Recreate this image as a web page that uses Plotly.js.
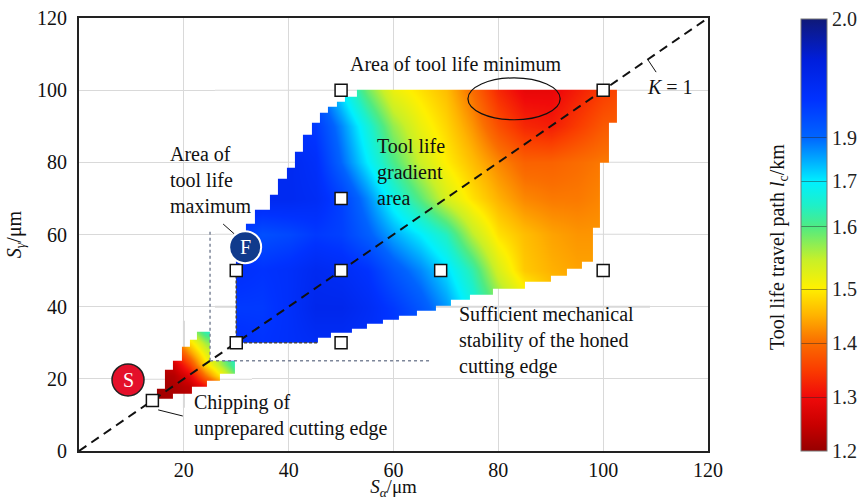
<!DOCTYPE html>
<html><head><meta charset="utf-8">
<script src="https://cdn.plot.ly/plotly-3.0.1.min.js"></script>
<style>html,body{margin:0;padding:0;background:#fff}#chart{width:866px;height:500px}</style>
</head><body><div id="chart"></div>
<script>
// ---------------- data ----------------
// main measured field: tool life travel path l_c (km) on S_alpha x S_gamma nodes
const mainX = [30,35,40,45,50,55,60,65,70,75,80,85,90,95,100,105];
const mainY = [30,40,50,60,70,80,90,100];
const mainZ = [
 [1.86,1.85,1.86,1.87,1.87,1.86,1.85,1.82,1.78,1.72,1.64,1.57,1.52,1.48,1.46,1.46],
 [1.84,1.84,1.86,1.89,1.89,1.87,1.84,1.80,1.75,1.68,1.60,1.54,1.48,1.45,1.44,1.44],
 [1.86,1.85,1.86,1.88,1.87,1.85,1.80,1.76,1.71,1.64,1.54,1.47,1.45,1.44,1.44,1.44],
 [1.84,1.81,1.82,1.84,1.83,1.79,1.74,1.70,1.65,1.56,1.49,1.46,1.44,1.43,1.43,1.43],
 [1.88,1.88,1.88,1.87,1.83,1.76,1.68,1.61,1.54,1.49,1.45,1.42,1.41,1.41,1.42,1.42],
 [1.88,1.88,1.88,1.86,1.78,1.70,1.62,1.55,1.50,1.46,1.42,1.39,1.39,1.40,1.41,1.41],
 [1.86,1.86,1.86,1.84,1.76,1.67,1.58,1.52,1.48,1.43,1.37,1.33,1.32,1.35,1.38,1.39],
 [1.84,1.84,1.84,1.80,1.70,1.60,1.52,1.49,1.46,1.40,1.33,1.29,1.29,1.32,1.35,1.37]
];
// chipping area (unprepared edge)
const wedgeX = [15,18,21,24,27,30];
const wedgeY = [15,18,21,24,27,30,33];
const wedgeZ = [
 [1.21,1.22,1.23,1.25,1.30,1.35],
 [1.21,1.22,1.24,1.30,1.38,1.45],
 [1.22,1.23,1.28,1.40,1.50,1.60],
 [1.23,1.26,1.35,1.48,1.57,1.65],
 [1.25,1.32,1.42,1.52,1.60,1.66],
 [1.30,1.38,1.48,1.57,1.63,1.67],
 [1.35,1.45,1.55,1.64,1.67,1.69]
];
// outline of the measured main area (stepped edges)
const leftEdgeY = [30,58,63,66.8,71,75.6,78.4,82.9,87.6,90.9,93.7,95.3,96.7,98.1];
const leftEdgeX = [30,31.8,33.5,36.4,38,39.7,41.2,42.7,44.4,46,47.5,49.2,50.7,53];
const topEdgeY = 100;
const rightEdgeY = [30,62,80,91];
const rightEdgeX = [98,99.3,101,102.7];
const bottomEdgeX = [30,45.5,48,52,55,58,61,64.5,68,71,74.5,79,85,90,93,96];
const bottomEdgeY = [30,31.5,32.8,34,35.3,36.3,37.5,38.8,40.2,41.8,43.2,45,47,48.6,50.5,52.4];
// outline of the chipping area (rows)
const wedgeRowY0 = [14.6,16.0,17.4,17.8,19.5,21.5,22.5,25.0,28.9,30.8];
const wedgeRowY1 = [16.0,17.4,17.8,19.5,21.5,22.5,25.0,28.9,30.8,33.1];
const wedgeRowX0 = [14.8,14.8,16.4,16.4,16.4,16.4,18.0,19.6,21.2,22.5];
const wedgeRowX1 = [18.0,21.5,21.5,24.4,26.9,29.8,29.8,24.9,24.9,24.9];
// test points
const sqX = [14,30,30,50,50,50,50,69,100,100];
const sqY = [14,30,50,30,50,70,100,50,50,100];
// K = 1 line
const kX = [0,120];
const kY = [0,120];
// axis ticks
const xTicks = [20,40,60,80,100,120];
const yTicks = [0,20,40,60,80,100,120];
const cbTickVals = [1.2,1.3,1.4,1.5,1.615,1.7,1.78,2.0];
const cbTickText = ['1.2','1.3','1.4','1.5','1.6','1.7','1.9','2.0'];

// ---------------- styling ----------------
const jet = [[0,'rgb(150,0,0)'],[0.06,'rgb(200,0,0)'],[0.125,'rgb(240,10,10)'],[0.1875,'rgb(250,60,0)'],
 [0.252,'rgb(250,110,0)'],[0.315,'rgb(255,180,0)'],[0.377,'rgb(255,240,0)'],[0.442,'rgb(200,240,40)'],
 [0.518,'rgb(80,235,130)'],[0.569,'rgb(30,240,200)'],[0.623,'rgb(0,240,255)'],[0.674,'rgb(0,170,255)'],
 [0.727,'rgb(0,100,255)'],[0.8125,'rgb(0,50,255)'],[0.905,'rgb(0,30,220)'],[1,'rgb(15,25,120)']];
const FONT = '"Liberation Serif", "Times New Roman", serif';

// ---------------- mask (white outside the measured areas) ----------------
function stepLookup(keys, vals, v){ let r = vals[0]; for(let i=0;i<keys.length;i++){ if(keys[i] <= v) r = vals[i]; } return r; }
function inMain(x,y){
  if(y < 30 || y > topEdgeY) return false;
  if(x < stepLookup(leftEdgeY, leftEdgeX, y)) return false;
  if(x > stepLookup(rightEdgeY, rightEdgeX, y)) return false;
  if(x < bottomEdgeX[0]) return false;
  if(y < stepLookup(bottomEdgeX, bottomEdgeY, x)) return false;
  return true;
}
function inWedge(x,y){
  for(let i=0;i<wedgeRowY0.length;i++){
    if(y>=wedgeRowY0[i] && y<wedgeRowY1[i] && x>=wedgeRowX0[i] && x<=wedgeRowX1[i]) return true;
  }
  return false;
}
// mask boxes: heatmap extents plus a safety margin
const mainBox = [26,109,23.5,106.5];
const wedgeBox = [12,33,12,36];
const gridV = [20,40,60,80,100];
let ex = [mainBox[0],mainBox[1],wedgeBox[0],wedgeBox[1]].concat(leftEdgeX,rightEdgeX,bottomEdgeX,wedgeRowX0,wedgeRowX1);
let ey = [mainBox[2],mainBox[3],wedgeBox[2],wedgeBox[3],topEdgeY].concat(leftEdgeY,rightEdgeY,bottomEdgeY,wedgeRowY0,wedgeRowY1);
gridV.forEach(g=>{ ex.push(g-0.12,g+0.12); ey.push(g-0.17,g+0.17); });
ex = Array.from(new Set(ex)).sort((a,b)=>a-b);
ey = Array.from(new Set(ey)).sort((a,b)=>a-b);
const maskZ = [];
for(let j=0;j<ey.length-1;j++){
  const row = []; const cy = (ey[j]+ey[j+1])/2;
  for(let i=0;i<ex.length-1;i++){
    const cx = (ex[i]+ex[i+1])/2;
    const inBox = (cx>=mainBox[0]&&cx<=mainBox[1]&&cy>=mainBox[2]&&cy<=mainBox[3]) ||
                  (cx>=wedgeBox[0]&&cx<=wedgeBox[1]&&cy>=wedgeBox[2]&&cy<=wedgeBox[3]);
    if(!inBox || inMain(cx,cy) || inWedge(cx,cy)) { row.push(null); continue; }
    const onGrid = gridV.some(g=>Math.abs(cx-g)<0.12) || gridV.some(g=>Math.abs(cy-g)<0.17);
    row.push(onGrid?1:0);
  }
  maskZ.push(row);
}

const traces = [
  {type:'heatmap', x:wedgeX, y:wedgeY, z:wedgeZ, zsmooth:'best', colorscale:jet, zmin:1.2, zmax:2.0, showscale:false, hoverinfo:'skip'},
  {type:'heatmap', x:mainX, y:mainY, z:mainZ, zsmooth:'best', colorscale:jet, zmin:1.2, zmax:2.0, hoverinfo:'skip',
   colorbar:{thickness:26, thicknessmode:'pixels', len:432, lenmode:'pixels', x:1.1479, xanchor:'left', xpad:0,
     y:0.4988, yanchor:'middle', ypad:0, outlinewidth:1, outlinecolor:'#777',
     tickmode:'array', tickvals:cbTickVals, ticktext:cbTickText, ticks:'inside', ticklen:26, tickwidth:1,
     tickcolor:'rgba(40,40,40,0.45)', tickfont:{family:FONT, size:20, color:'#222'}}},
  {type:'heatmap', x:ex, y:ey, z:maskZ, zsmooth:false, colorscale:[[0,'#ffffff'],[1,'#d9d9d9']], zmin:0, zmax:1, showscale:false, hoverinfo:'skip'},
  // grey dotted guide lines
  {type:'scatter', mode:'lines', x:[25,25], y:[25,61], line:{color:'#7d8699', width:1.5, dash:'3px,3px'}, hoverinfo:'skip'},
  {type:'scatter', mode:'lines', x:[25,67], y:[25,25], line:{color:'#7d8699', width:1.5, dash:'3px,3px'}, hoverinfo:'skip'},
  {type:'scatter', mode:'lines', x:[30,30,45.5], y:[50,30,30], line:{color:'#444', width:1.5, dash:'3px,2px'}, hoverinfo:'skip'},
  // K = 1
  {type:'scatter', mode:'lines', x:kX, y:kY, line:{color:'#111', width:2, dash:'9px,6px'}, hoverinfo:'skip'},
  // test points
  {type:'scatter', mode:'markers', x:sqX, y:sqY, marker:{symbol:'square', size:12, color:'#fff', line:{color:'#111', width:1.5}}, hoverinfo:'skip'}
];

const ann = (x,y,text,extra)=>Object.assign({x,y,xref:'x',yref:'y',text,showarrow:false,font:{family:FONT,size:20,color:'#111'}},extra||{});
const layout = {
  width:866, height:500,
  margin:{l:79, r:158, t:18, b:49, autoexpand:false},
  paper_bgcolor:'#fff', plot_bgcolor:'#fff',
  font:{family:FONT, size:20, color:'#111'},
  showlegend:false,
  xaxis:{range:[0,120], tickmode:'array', tickvals:xTicks, showgrid:true, gridcolor:'#d9d9d9', gridwidth:1, zeroline:false,
    showline:true, linecolor:'#222', linewidth:2, mirror:true, ticks:'', ticklabelstandoff:0,
    tickfont:{family:FONT,size:20,color:'#111'},
    title:{text:'<i>S</i><sub><i>α</i></sub>/μm', standoff:9, font:{family:FONT,size:19,color:'#111'}}},
  yaxis:{range:[0,120], tickmode:'array', tickvals:yTicks, showgrid:true, gridcolor:'#d9d9d9', gridwidth:1, zeroline:false,
    showline:true, linecolor:'#222', linewidth:2, mirror:true, ticks:'', ticklabelstandoff:6,
    tickfont:{family:FONT,size:20,color:'#111'},
    title:{text:'<i>S</i><sub><i>γ</i></sub>/μm', standoff:10, font:{family:FONT,size:20,color:'#111'}}},
  shapes:[
    {type:'circle', xref:'x', yref:'y', x0:74.2, x1:91.8, y0:91.8, y1:103.4, line:{color:'#111', width:1.2}},
    {type:'line', xref:'x', yref:'y', x0:108.5, y0:108.5, x1:110.1, y1:105, line:{color:'#111', width:1}},
    {type:'line', xref:'x', yref:'y', x0:27.5, y0:62.9, x1:29.6, y1:60.2, line:{color:'#111', width:1}},
    {type:'line', xref:'x', yref:'y', x0:15.1, y0:11.4, x1:19.8, y1:9.7, line:{color:'#111', width:1}},
    {type:'circle', xref:'x', yref:'y', xsizemode:'pixel', ysizemode:'pixel', xanchor:31.7, yanchor:56.5,
      x0:-16, x1:16, y0:-16, y1:16, fillcolor:'rgb(16,58,140)', line:{color:'#fff', width:2}},
    {type:'circle', xref:'x', yref:'y', xsizemode:'pixel', ysizemode:'pixel', xanchor:9.35, yanchor:19.7,
      x0:-16, x1:16, y0:-16, y1:16, fillcolor:'rgb(228,16,42)', line:{color:'#222', width:1.5}}
  ],
  annotations:[
    ann(71.9,107.3,'Area of tool life minimum'),
    ann(56.5,77.3,'Tool life<br>gradient<br>area',{xanchor:'left',align:'left'}),
    ann(17,75.1,'Area of<br>tool life<br>maximum',{xanchor:'left',align:'left'}),
    ann(72.1,30.5,'Sufficient mechanical<br>stability of the honed<br>cutting edge',{xanchor:'left',align:'left'}),
    ann(21.6,9.8,'Chipping of<br>unprepared cutting edge',{xanchor:'left',align:'left'}),
    ann(108,100.9,'<i>K</i> = 1',{xanchor:'left'}),
    ann(31.7,56.5,'F',{font:{family:FONT,size:20,color:'#fff'}}),
    ann(9.35,19.7,'S',{font:{family:FONT,size:20,color:'#fff'}}),
    {x:1.1113, y:0.471, xref:'paper', yref:'paper', xanchor:'center', yanchor:'middle',
     text:'Tool life travel path <i>l</i><sub>c</sub>/km', textangle:-90,
     showarrow:false, font:{family:FONT,size:20,color:'#111'}}
  ]
};
Plotly.newPlot('chart', traces, layout, {displayModeBar:false, staticPlot:true});
</script></body></html>
